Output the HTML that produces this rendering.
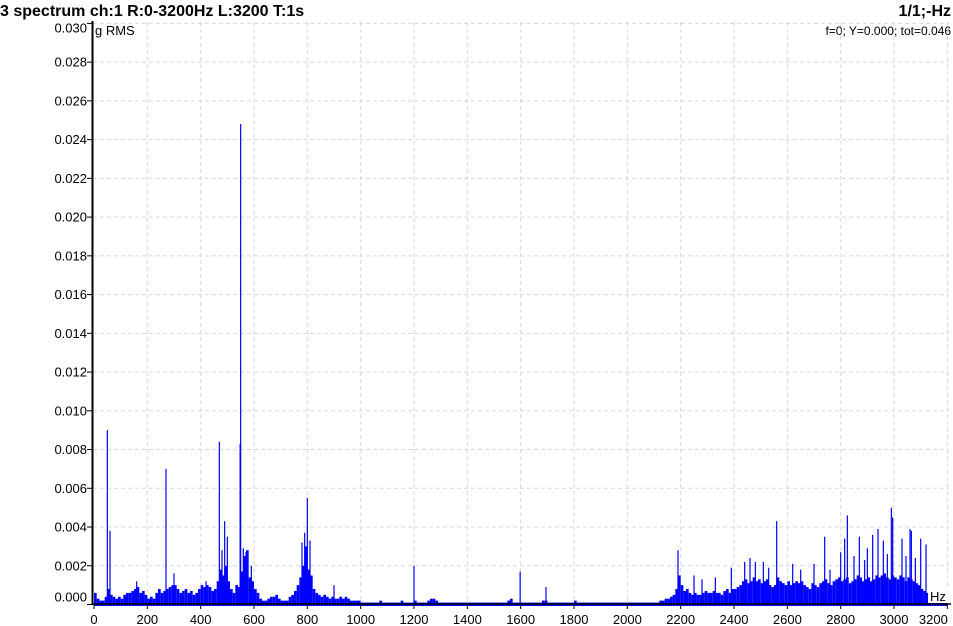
<!DOCTYPE html>
<html><head><meta charset="utf-8"><style>
body{margin:0;background:#fff;font-family:"Liberation Sans",sans-serif;}
svg{display:block}
</style></head><body>
<svg id="c" width="953" height="626" xmlns="http://www.w3.org/2000/svg">
<text x="0" y="16" font-size="16" font-weight="bold">3 spectrum ch:1 R:0-3200Hz L:3200 T:1s</text>
<text x="951" y="16" font-size="16" font-weight="bold" text-anchor="end">1/1;-Hz</text>
<text x="951" y="35" font-size="12" text-anchor="end">f=0; Y=0.000; tot=0.046</text>
<g id="grid"></g><g id="bars"></g><g id="axes"></g>
<text x="95" y="35" font-size="13">g RMS</text>
<rect x="928" y="588" width="20" height="15" fill="#fff"/>
<text x="930" y="601" font-size="13">Hz</text>
</svg>
<script>
const binHz = 10;
const binVals = [6,3,2,2,4,8,5,4,3,4, 3,5,6,6,7,8,9,6,7,5, 3,4,3,6,8,6,7,8,9,10, 10,8,6,7,8,6,7,5,6,8,
10,9,10,9,7,8,12,18,15,20, 12,8,6,10,9,17,25,28,14,12, 8,6,3,2,2,3,4,4,5,3, 2,2,2,4,5,7,10,14,20,30,
18,15,8,6,5,4,5,4,3,4, 3,3,4,3,4,3,2,2,2,2, 1,1,1,1,1,1,1,2,1,1, 1,1,1,1,1,2,1,1,1,1,
2,1,1,1,1,2,3,3,2,1, 1,1,1,1,1,1,1,1,1,1, 1,1,1,1,1,1,1,1,1,1, 1,1,1,1,1,2,3,1,1,1,
1,1,1,1,1,1,1,1,2,2, 1,1,1,1,1,1,1,1,1,1, 2,1,1,1,1,1,1,1,1,1, 1,1,1,1,1,1,1,1,1,1,
1,1,1,1,1,1,1,1,1,1, 1,1,2,2,3,3,4,5,8,15, 10,7,8,6,5,6,5,5,6,7, 6,6,7,6,6,5,7,8,6,8,
8,9,10,12,13,11,12,14,12,13, 11,12,13,10,9,10,14,12,11,10, 12,10,11,12,11,12,10,9,8,11, 10,9,11,12,13,11,10,12,13,14,
12,13,14,11,12,13,15,14,12,13, 14,12,13,15,14,15,16,14,13,15, 14,13,15,14,12,14,13,12,11,10, 8,7,6,5,3,2,2,2,2,2];
const peakFreqs = [50,60,160,270,300,420,470,480,490,500,548,550,560,570,590,780,790,800,810,900,1200,1598,1695,2190,2250,2280,2330,2390,2440,2460,2480,2510,2530,2560,2620,2650,2700,2740,2760,2800,2815,2825,2850,2870,2890,2900,2920,2940,2960,2975,2990,2995,3030,3045,3060,3065,3080,3100,3120];
const peakVals = [0.009,0.0038,0.0012,0.007,0.0016,0.0012,0.0084,0.0028,0.0043,0.0035,0.0083,0.0248,0.0029,0.0027,0.002,0.0032,0.0037,0.0055,0.0033,0.001,0.002,0.0017,0.0009,0.0028,0.0015,0.0013,0.0014,0.0019,0.0022,0.0024,0.0022,0.0022,0.0019,0.0043,0.0021,0.0018,0.0021,0.0035,0.0018,0.0027,0.0034,0.0046,0.0025,0.0035,0.0023,0.0029,0.0036,0.0039,0.0033,0.0026,0.005,0.0045,0.0034,0.0025,0.0039,0.0038,0.0024,0.0034,0.0031];
const yTicks = [0,0.002,0.004,0.006,0.008,0.010,0.012,0.014,0.016,0.018,0.020,0.022,0.024,0.026,0.028,0.030];
const xTicks = [0,200,400,600,800,1000,1200,1400,1600,1800,2000,2200,2400,2600,2800,3000,3200];
const NS="http://www.w3.org/2000/svg";
const X0=94, XS=0.26667, Y0=604.5, YS=19370;
const xs=f=>X0+f*XS, ys=v=>Y0-v*YS;
function mk(tag,attrs,parent){const e=document.createElementNS(NS,tag);for(const k in attrs)e.setAttribute(k,attrs[k]);parent.appendChild(e);return e;}
const grid=document.getElementById('grid'),bars=document.getElementById('bars'),axes=document.getElementById('axes');
yTicks.forEach((t,i)=>{const y=ys(t);
 if(i>0){const g=mk('line',{x1:93,x2:949,y1:y,y2:y,stroke:'#d8d8d8','stroke-dasharray':'4,3'},grid);
 
 }
 mk('line',{x1:87,x2:93,y1:y,y2:y,stroke:'#000'},axes);
 const l=mk('text',{x:87,y:(i==0?y-3:(i==yTicks.length-1?y+9:y+4.5)),'font-size':13,'text-anchor':'end'},axes);l.textContent=t.toFixed(3);
 
 });
xTicks.forEach((t,i)=>{const x=xs(t);
 if(i>0){const g=mk('line',{x1:x,x2:x,y1:22,y2:604,stroke:'#d8d8d8','stroke-dasharray':'4,3'},grid);
 
 }
 mk('line',{x1:x,x2:x,y1:604,y2:609,stroke:'#000'},axes);
 const l=mk('text',{x:(i==xTicks.length-1?x-14:x),y:624,'font-size':13,'text-anchor':'middle'},axes);l.textContent=t;
 
 });
binVals.forEach((v,i)=>{const val=v*1e-4;const y=ys(val);
 const r=mk('rect',{x:xs(i*binHz),y:y,width:binHz*XS,height:Y0-y+1.5,fill:'#0000ff'},bars);
 
 });
peakFreqs.forEach((f,i)=>{const y=ys(peakVals[i]);
 const r=mk('rect',{x:xs(f)-0.6,y:y,width:1.2,height:Y0-y,fill:'#0000ff'},bars);
 
 });
mk('line',{x1:92.5,x2:92.5,y1:21,y2:605,stroke:'#000','stroke-width':2},axes);
mk('line',{x1:92,x2:951,y1:604,y2:604,stroke:'#000','stroke-width':1.5},axes);
</script>
</body></html>
